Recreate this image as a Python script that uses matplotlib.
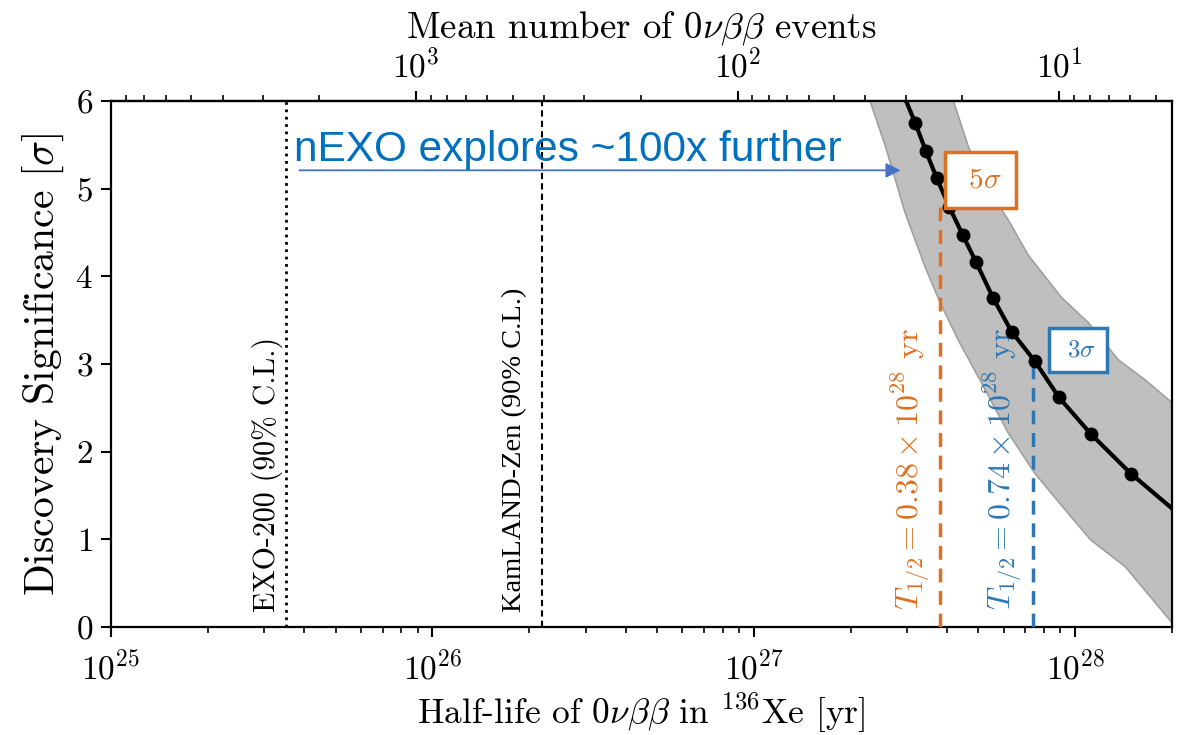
import numpy as np
import matplotlib
matplotlib.use('Agg')
import matplotlib.pyplot as plt

plt.rcParams['font.family'] = 'serif'
plt.rcParams['font.serif'] = ['cmr10']
plt.rcParams['mathtext.fontset'] = 'cm'
plt.rcParams['axes.formatter.use_mathtext'] = True

# discovery significance curve (half-life [yr], sigma)
dots_T = [3.18e27, 3.43e27, 3.71e27, 4.06e27, 4.47e27, 4.92e27, 5.56e27,
          6.34e27, 7.50e27, 8.90e27, 1.12e28, 1.49e28]
dots_sig = [5.75, 5.43, 5.12, 4.79, 4.47, 4.16, 3.75, 3.37, 3.03, 2.62, 2.20, 1.75]
line_T = [2.90e27] + dots_T + [2.05e28]
line_sig = [6.1] + dots_sig + [1.32]

# uncertainty band edges
upper_T = [4.10e27, 4.18e27, 4.65e27, 5.37e27, 6.20e27, 7.15e27, 9.06e27,
           1.10e28, 1.36e28, 1.65e28, 2.0e28, 2.1e28]
upper_sig = [6.1, 6.0, 5.48, 4.99, 4.64, 4.24, 3.76, 3.47, 3.05, 2.82, 2.56, 2.50]
lower_T = [2.26e27, 2.30e27, 2.57e27, 2.96e27, 3.41e27, 3.80e27, 4.33e27,
           5.12e27, 6.20e27, 7.50e27, 9.29e27, 1.12e28, 1.43e28, 2.01e28, 2.1e28]
lower_sig = [6.1, 6.0, 5.48, 4.72, 4.11, 3.70, 3.27, 2.78, 2.21, 1.75, 1.34,
             0.99, 0.69, 0.04, -0.05]

exo_limit = 3.5e25
kamland_limit = 2.2e26
T_5sig = 0.38e28
T_3sig = 0.74e28
events_const = 8.9e28  # mean events = const / T
top_ticks = [1000, 100, 10]

orange = '#e0701f'
blue = '#2c77b4'

fig = plt.figure(figsize=(11.88, 7.35), dpi=100)
ax = fig.add_axes([0.0934, 0.1469, 0.8931, 0.7156])

ax.fill(np.concatenate([lower_T, upper_T[::-1]]),
        np.concatenate([lower_sig, upper_sig[::-1]]),
        facecolor='#bfbfbf', edgecolor='#a0a0a0', lw=1.2, zorder=1)
ax.plot(line_T, line_sig, color='black', lw=3, zorder=4)
ax.plot(dots_T, dots_sig, 'o', color='black', ms=9, zorder=5)

ax.axvline(exo_limit, color='black', ls=':', lw=2, zorder=2)
ax.axvline(kamland_limit, color='black', ls='--', lw=1.5, dashes=(3, 2), zorder=2)
ax.plot([T_5sig, T_5sig], [0, 4.87], color=orange, ls='--', lw=2.5, dashes=(4, 2.5), zorder=3)
ax.plot([T_3sig, T_3sig], [0, 3.03], color=blue, ls='--', lw=2.5, dashes=(4, 2.5), zorder=3)

ax.text(3.07e25, 0.17, 'EXO-200 (90% C.L.)', rotation=90, ha='center', va='bottom', fontsize=21.5)
ax.text(1.80e26, 0.17, 'KamLAND-Zen (90% C.L.)', rotation=90, ha='center', va='bottom',
        fontsize=20.5, family='Liberation Serif')
ax.text(3.10e27, 0.19, r'$T_{1/2} = 0.38 \times 10^{28}$ yr', rotation=90,
        ha='center', va='bottom', fontsize=23, color=orange)
ax.text(5.97e27, 0.19, r'$T_{1/2} = 0.74 \times 10^{28}$ yr', rotation=90,
        ha='center', va='bottom', fontsize=23, color=blue)

ax.text(5.07e27, 5.10, r'$\ 5\sigma\ $', ha='center', va='center', fontsize=21, color=orange,
        bbox=dict(boxstyle='square,pad=0.5', facecolor='white', edgecolor=orange, lw=2.5), zorder=6)
ax.text(1.02e28, 3.16, r'$\ 3\sigma\ $', ha='center', va='center', fontsize=18, color=blue,
        bbox=dict(boxstyle='square,pad=0.45', facecolor='white', edgecolor=blue, lw=2.5), zorder=6)

ax.annotate('', xy=(2.92e27, 5.21), xytext=(3.78e25, 5.21),
            arrowprops=dict(arrowstyle='-|>', color='#4472C4', lw=1.3, mutation_scale=22), zorder=7)
ax.text(3.7e25, 5.44, 'nEXO explores ~100x further', color='#0070C0', fontsize=30.5,
        family='Liberation Sans', ha='left', va='center', zorder=7)

ax.set_xscale('log')
ax.set_xlim(1e25, 2e28)
ax.set_ylim(0, 6)
ax.set_yticks([0, 1, 2, 3, 4, 5, 6])
ax.set_xlabel(r'Half-life of $0\nu\beta\beta$ in $^{136}$Xe [yr]', fontsize=25.5, labelpad=5)
ax.set_ylabel(r'Discovery Significance [$\sigma$]', fontsize=30, labelpad=7)
ax.tick_params(axis='both', which='major', labelsize=24, length=7, width=1.5)
ax.tick_params(axis='x', which='major', pad=9)
ax.tick_params(axis='y', which='major', pad=6)
ax.tick_params(axis='x', which='minor', length=4, width=1.2)
for s in ax.spines.values():
    s.set_linewidth(1.6)

sec = ax.secondary_xaxis('top', functions=(lambda t: events_const / t, lambda n: events_const / n))
sec.set_xticks(top_ticks)
sec.set_xlabel(r'Mean number of $0\nu\beta\beta$ events', fontsize=26.5, labelpad=7)
sec.tick_params(axis='x', which='major', labelsize=24, length=7, width=1.5, pad=6)
sec.tick_params(axis='x', which='minor', length=4, width=1.2)
sec.spines['top'].set_linewidth(1.6)

fig.savefig('out.png', dpi=100)
